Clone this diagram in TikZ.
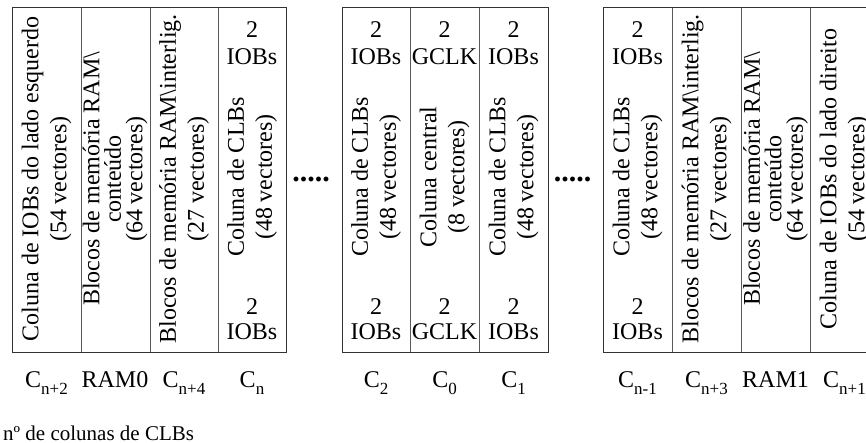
\documentclass[tikz,border=0pt]{standalone}
\usepackage{fontspec}
\setmainfont{Liberation Serif}
\newcommand\Csb[1]{C\raisebox{-7pt}{\fontsize{17}{17}\selectfont #1}}
\begin{document}
\begin{tikzpicture}[x=1pt,y=-1pt,
  frame/.style={draw=black!80,line width=1pt},
  divider/.style={draw=black!65,line width=1pt},
  vtwo/.style={rotate=90,align=center,inner sep=0pt,font=\fontsize{24}{28}\selectfont},
  vthree/.style={rotate=90,align=center,inner sep=0pt,font=\fontsize{24}{21.5}\selectfont},
  hlab/.style={anchor=base,inner sep=0pt,font=\fontsize{24}{28}\selectfont},
  dots/.style={anchor=base,inner sep=0pt,font=\fontsize{30}{30}\selectfont\bfseries}]
\useasboundingbox (0,0) rectangle (866,443);
\clip (0,0) rectangle (866,443);
% boxes
\draw[frame] (12,8) rectangle (286,352);
\foreach \x in {81,150,218} \draw[divider] (\x,8) -- (\x,352);
\draw[frame] (342,8) rectangle (548,352);
\foreach \x in {410,479} \draw[divider] (\x,8) -- (\x,352);
\draw[frame] (603,8) rectangle (880,352);
\foreach \x in {672,741,810} \draw[divider] (\x,8) -- (\x,352);
% group 1
\node[vtwo] (v1) at (46.5,179) {Coluna de IOBs do lado esquerdo\\(54 vectores)};
\node[vthree] (v2) at (115,179) {Blocos de memória RAM\textbackslash\\conteúdo\\(64 vectores)};
\node[vtwo] (v3) at (184,179) {Blocos de memória RAM\textbackslash interlig.\\(27 vectores)};
\node[vtwo] (v4) at (252,177) {Coluna de CLBs\\(48 vectores)};
\node[hlab] (t4a) at (252,38) {2};
\node[hlab] (t4b) at (252,65) {IOBs};
\node[hlab] (b4a) at (252,314) {2};
\node[hlab] (b4b) at (252,339) {IOBs};
% dots
\node[dots] (d1) at (311,182) {.....};
% group 2
\node[vtwo] (v5) at (376,177) {Coluna de CLBs\\(48 vectores)};
\node[hlab] (t5a) at (376,38) {2};
\node[hlab] (t5b) at (376,65) {IOBs};
\node[hlab] (b5a) at (376,314) {2};
\node[hlab] (b5b) at (376,339) {IOBs};
\node[vtwo] (v6) at (444.5,177) {Coluna central\\(8 vectores)};
\node[hlab] (t6a) at (444.5,38) {2};
\node[hlab] (t6b) at (444.5,65) {GCLK};
\node[hlab] (b6a) at (444.5,314) {2};
\node[hlab] (b6b) at (444.5,339) {GCLK};
\node[vtwo] (v7) at (513.5,177) {Coluna de CLBs\\(48 vectores)};
\node[hlab] (t7a) at (513.5,38) {2};
\node[hlab] (t7b) at (513.5,65) {IOBs};
\node[hlab] (b7a) at (513.5,314) {2};
\node[hlab] (b7b) at (513.5,339) {IOBs};
\node[dots] (d2) at (572.5,182) {.....};
% group 3
\node[vtwo] (v8) at (637.5,177) {Coluna de CLBs\\(48 vectores)};
\node[hlab] (t8a) at (637.5,38) {2};
\node[hlab] (t8b) at (637.5,65) {IOBs};
\node[hlab] (b8a) at (637.5,314) {2};
\node[hlab] (b8b) at (637.5,339) {IOBs};
\node[vtwo] (v9) at (706.5,179) {Blocos de memória RAM\textbackslash interlig.\\(27 vectores)};
\node[vthree] (v10) at (775.5,179) {Blocos de memória RAM\textbackslash\\conteúdo\\(64 vectores)};
\node[vtwo] (v11) at (844.5,179) {Coluna de IOBs do lado direito\\(54 vectores)};
% column labels
\node[hlab] (l1) at (46.5,387) {\Csb{n+2}};
\node[hlab] (l2) at (115,387) {RAM0};
\node[hlab] (l3) at (184,387) {\Csb{n+4}};
\node[hlab] (l4) at (252,387) {\Csb{n}};
\node[hlab] (l5) at (376,387) {\Csb{2}};
\node[hlab] (l6) at (444.5,387) {\Csb{0}};
\node[hlab] (l7) at (513.5,387) {\Csb{1}};
\node[hlab] (l8) at (637.5,387) {\Csb{n-1}};
\node[hlab] (l9) at (706.5,387) {\Csb{n+3}};
\node[hlab] (l10) at (775.5,387) {RAM1};
\node[hlab] (l11) at (844.5,387) {\Csb{n+1}};
% footnote
\node[anchor=base west,inner sep=0pt,font=\fontsize{21}{24}\selectfont] (note) at (3,440) {nº de colunas de CLBs};
\end{tikzpicture}
\end{document}
